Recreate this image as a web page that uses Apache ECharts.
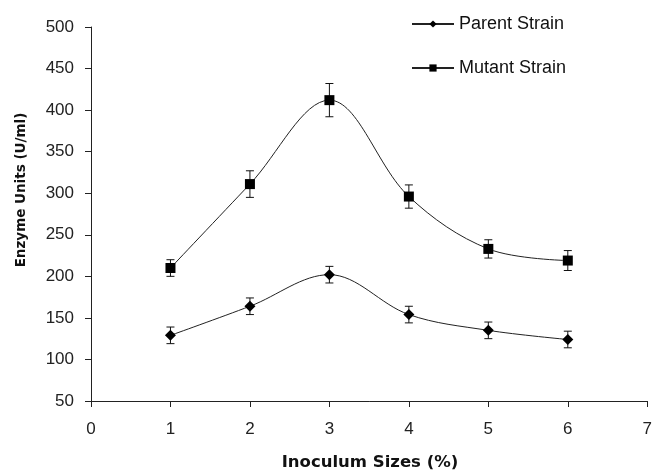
<!DOCTYPE html>
<html>
<head>
<meta charset="utf-8">
<script src="https://cdn.jsdelivr.net/npm/echarts@6/dist/echarts.min.js"></script>
<style>html,body{margin:0;padding:0;background:#fff;}#c{width:655px;height:474px;}</style>
</head>
<body>
<div id="c"></div>
<script>
var xValues = [1, 2, 3, 4, 5, 6];
var parentValues = [129, 164, 202, 154, 135, 124];
var parentErrors = [10, 10, 10, 10, 10, 10];
var mutantValues = [210, 311, 412, 296, 233, 219];
var mutantErrors = [10, 16, 20, 14, 11, 12];
var seriesNames = ['Parent Strain', 'Mutant Strain'];
var xTitle = 'Inoculum Sizes (%)';
var yTitle = 'Enzyme Units (U/ml)';

function pairs(xs, ys) { return xs.map(function (x, i) { return [x, ys[i]]; }); }
function errData(xs, ys, es) { return xs.map(function (x, i) { return [x, ys[i] - es[i], ys[i] + es[i]]; }); }

function errRender(params, api) {
  var x = api.value(0);
  var lo = api.coord([x, api.value(1)]);
  var hi = api.coord([x, api.value(2)]);
  var hw = 4;
  var st = { stroke: '#111', lineWidth: 1 };
  return {
    type: 'group',
    children: [
      { type: 'line', shape: { x1: lo[0], y1: lo[1], x2: hi[0], y2: hi[1] }, style: st },
      { type: 'line', shape: { x1: lo[0] - hw, y1: lo[1], x2: lo[0] + hw, y2: lo[1] }, style: st },
      { type: 'line', shape: { x1: hi[0] - hw, y1: hi[1], x2: hi[0] + hw, y2: hi[1] }, style: st }
    ]
  };
}

var chart = echarts.init(document.getElementById('c'), null, { renderer: 'canvas' });
var font = 'Liberation Sans, Arial, sans-serif';
chart.setOption({
  animation: false,
  backgroundColor: '#fff',
  grid: { left: 91, right: 4, top: 27, bottom: 73, containLabel: false },
  legend: {
    orient: 'vertical',
    left: 406,
    top: 10,
    itemWidth: 42,
    itemHeight: 9,
    itemGap: 26,
    textStyle: { fontFamily: font, fontSize: 18, color: '#111' },
    data: seriesNames
  },
  xAxis: {
    type: 'value', min: 0, max: 7, interval: 1,
    axisLine: { lineStyle: { color: '#222', width: 1 } },
    axisTick: { length: 6, lineStyle: { color: '#222' } },
    axisLabel: { fontFamily: font, fontSize: 17, color: '#222', margin: 20 },
    splitLine: { show: false }
  },
  yAxis: {
    type: 'value', min: 50, max: 500, interval: 50,
    axisLine: { show: true, lineStyle: { color: '#222', width: 1 } },
    axisTick: { show: true, length: 6, lineStyle: { color: '#222' } },
    axisLabel: { fontFamily: font, fontSize: 17, color: '#222', margin: 17 },
    splitLine: { show: false }
  },
  graphic: [
    {
      type: 'text', x: 370, y: 463,
      style: { text: xTitle, font: 'bold 16.5px "DejaVu Sans", sans-serif', fill: '#111', textAlign: 'center', textVerticalAlign: 'middle' }
    },
    {
      type: 'text', x: 21, y: 190, rotation: Math.PI / 2,
      style: { text: yTitle, font: 'bold 13.5px "DejaVu Sans", sans-serif', fill: '#111', textAlign: 'center', textVerticalAlign: 'middle' }
    }
  ],
  series: [
    {
      name: seriesNames[0], type: 'line', data: pairs(xValues, parentValues),
      smooth: 0.35, symbol: 'diamond', symbolSize: 11,
      lineStyle: { color: '#222', width: 1 }, itemStyle: { color: '#000' }, z: 3
    },
    {
      name: seriesNames[1], type: 'line', data: pairs(xValues, mutantValues),
      smooth: 0.35, symbol: 'rect', symbolSize: 10,
      lineStyle: { color: '#222', width: 1 }, itemStyle: { color: '#000' }, z: 3
    },
    { type: 'custom', renderItem: errRender, data: errData(xValues, parentValues, parentErrors), z: 2 },
    { type: 'custom', renderItem: errRender, data: errData(xValues, mutantValues, mutantErrors), z: 2 }
  ]
});
</script>
</body>
</html>
